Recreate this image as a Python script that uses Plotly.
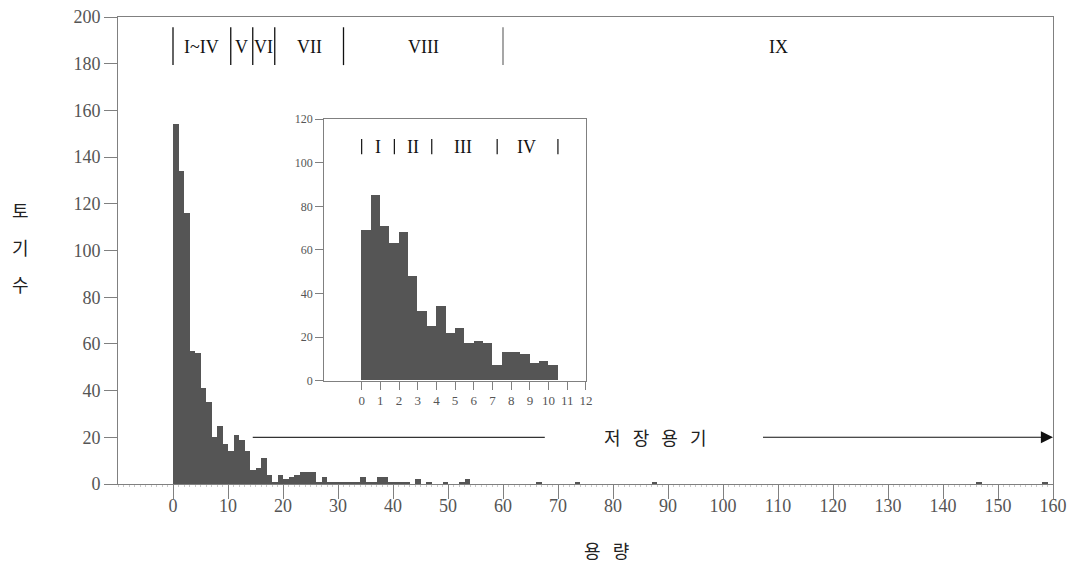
import plotly.graph_objects as go

# ---------------- data ----------------
# main histogram (bin width 1): bin start and count
main_bin_start = list(range(0, 47)) + [49, 52, 53, 66, 73, 87, 146, 158]
main_count = [154, 134, 116, 57, 56, 41, 35, 20, 25, 17,
              14, 21, 19, 14, 6, 7, 11, 4, 1, 4,
              2, 3, 4, 5, 5, 5, 1, 3, 1, 1,
              1, 1, 1, 1, 3, 1, 1, 3, 3, 1,
              1, 1, 1, 0, 2, 0, 1,
              1, 1, 2, 1, 1, 1, 1, 1]

# inset histogram (bin width 0.5)
inset_bin_start = [i * 0.5 for i in range(21)]
inset_count = [69, 85, 71, 63, 68, 48, 32, 25, 34, 22,
               24, 17, 18, 17, 7, 13, 13, 12, 8, 9, 7]

main_x_ticks = list(range(0, 161, 10))
main_y_ticks = list(range(0, 201, 20))
inset_x_ticks = list(range(0, 13))
inset_y_ticks = list(range(0, 121, 20))

# group boundaries and labels
main_bounds = [0, 10.5, 14.5, 18.5, 31, 60]
main_labels = ["I~IV", "V", "VI", "VII", "VIII", "IX"]
main_label_x = [5.2, 12.5, 16.5, 24.9, 45.5, 110]
inset_bounds = [0, 1.75, 3.75, 7.25, 10.5]
inset_labels = ["I", "II", "III", "IV"]
inset_label_x = [0.89, 2.76, 5.44, 8.83]

NB = "\u00a0"
storage_label = (NB * 3).join(["저", "장", "용", "기"])
storage_y = 20
storage_left = [14.5, 67.6]
storage_right = [107, 160]
storage_text_x = 87.7

y_title = ["토", "기", "수"]
x_title = (NB * 3).join(["용", "량"])

BAR = "#555555"
AX = "#808080"
TICKF = dict(family="Liberation Serif", size=18, color="#555555")
SERIF = "Liberation Serif"
KR = "Noto Sans CJK KR"

# page body has an 8px margin; compensate so the plot lands at the same pixels
OFF = 8
W, H = 1079 - OFF, 575 - OFF
plot_l, plot_r, plot_t, plot_b = 118, 1053, 17, 484   # target pixel box in window

fig = go.Figure()
main_w = 1
fig.add_trace(go.Bar(x=[s + main_w / 2 for s in main_bin_start], y=main_count,
                     width=main_w, marker=dict(color=BAR, line=dict(width=0)),
                     xaxis="x", yaxis="y", showlegend=False))
inset_w = 0.5
fig.add_trace(go.Bar(x=[s + inset_w / 2 for s in inset_bin_start], y=inset_count,
                     width=inset_w, marker=dict(color=BAR, line=dict(width=0)),
                     xaxis="x2", yaxis="y2", showlegend=False))

fig.update_layout(
    width=W, height=H,
    margin=dict(l=plot_l - OFF, r=1079 - plot_r, t=plot_t - OFF, b=575 - plot_b, pad=0,
                autoexpand=False),
    paper_bgcolor="white", plot_bgcolor="white",
    bargap=0, showlegend=False,
    xaxis=dict(range=[-10, 160], tickvals=main_x_ticks, ticks="outside", ticklen=14,
               tickcolor=AX, showline=True, linecolor=AX, mirror=True, showgrid=False,
               zeroline=False, tickfont=TICKF, automargin=False, ticklabelstandoff=-9,
               ticklabeloverflow="allow",
               minor=dict(ticks="outside", ticklen=2, dtick=1, tickcolor="#c8c8c8")),
    yaxis=dict(range=[0, 200], tickvals=main_y_ticks, ticks="outside", ticklen=13,
               tickcolor=AX, showline=True, linecolor=AX, mirror=True, showgrid=False,
               zeroline=False, tickfont=TICKF, automargin=False,
               ticklabeloverflow="allow"),
    xaxis2=dict(domain=[0.2206, 0.5005], anchor="y2", range=[-2, 12],
                tickvals=inset_x_ticks, ticks="outside", ticklen=8, tickcolor=AX,
                showline=True, linecolor=AX, mirror=True, showgrid=False, zeroline=False,
                automargin=False,
                tickfont=dict(family=SERIF, size=13, color="#555555")),
    yaxis2=dict(domain=[0.2212, 0.781], anchor="x2", range=[0, 120],
                tickvals=inset_y_ticks, ticks="outside", ticklen=8, tickcolor=AX,
                showline=True, linecolor=AX, mirror=True, showgrid=False, zeroline=False,
                automargin=False,
                tickfont=dict(family=SERIF, size=12, color="#555555")),
)

shapes = []
for b in main_bounds:
    shapes.append(dict(type="line", xref="x", yref="y", x0=b, x1=b, y0=179.4, y1=195.6,
                       line=dict(color="#777777" if b == 60 else "#111111", width=1.3)))
for b in inset_bounds:
    shapes.append(dict(type="line", xref="x2", yref="y2", x0=b, x1=b, y0=104, y1=111,
                       line=dict(color="#111111", width=1.2)))
shapes.append(dict(type="line", xref="x", yref="y", x0=storage_left[0], x1=storage_left[1],
                   y0=storage_y, y1=storage_y, line=dict(color="#333333", width=1.2)))
fig.update_layout(shapes=shapes)

ann = []
for lab, x in zip(main_labels, main_label_x):
    ann.append(dict(x=x, y=187.3, xref="x", yref="y", text=lab, showarrow=False,
                    font=dict(family=SERIF, size=18, color="#111111")))
for lab, x in zip(inset_labels, inset_label_x):
    ann.append(dict(x=x, y=107.5, xref="x2", yref="y2", text=lab, showarrow=False,
                    font=dict(family=SERIF, size=18, color="#111111")))
ann.append(dict(x=storage_text_x, y=storage_y, xref="x", yref="y", text=storage_label,
                showarrow=False, font=dict(family=KR, size=18, color="#222222")))
ann.append(dict(x=storage_right[1], y=storage_y, xref="x", yref="y",
                ax=storage_right[0], ay=storage_y, axref="x", ayref="y",
                text="", showarrow=True, arrowhead=2, arrowsize=2.2, arrowwidth=1.1,
                arrowcolor="#111111", standoff=0))

# pixel-placed titles -> paper coordinates
def to_paper(px, py):
    return (px - plot_l) / (plot_r - plot_l), (plot_b - py) / (plot_b - plot_t)

for i, ch in enumerate(y_title):
    x, y = to_paper(20, 210 + i * 37)
    ann.append(dict(x=x, y=y, xref="paper", yref="paper", text=ch, showarrow=False,
                    xanchor="center", yanchor="middle",
                    font=dict(family=KR, size=18, color="#222222")))
x, y = to_paper(606, 550)
ann.append(dict(x=x, y=y, xref="paper", yref="paper", text=x_title, showarrow=False,
                xanchor="center", yanchor="middle",
                font=dict(family=KR, size=18, color="#222222")))
fig.update_layout(annotations=ann)

fig.write_html("out.html")
